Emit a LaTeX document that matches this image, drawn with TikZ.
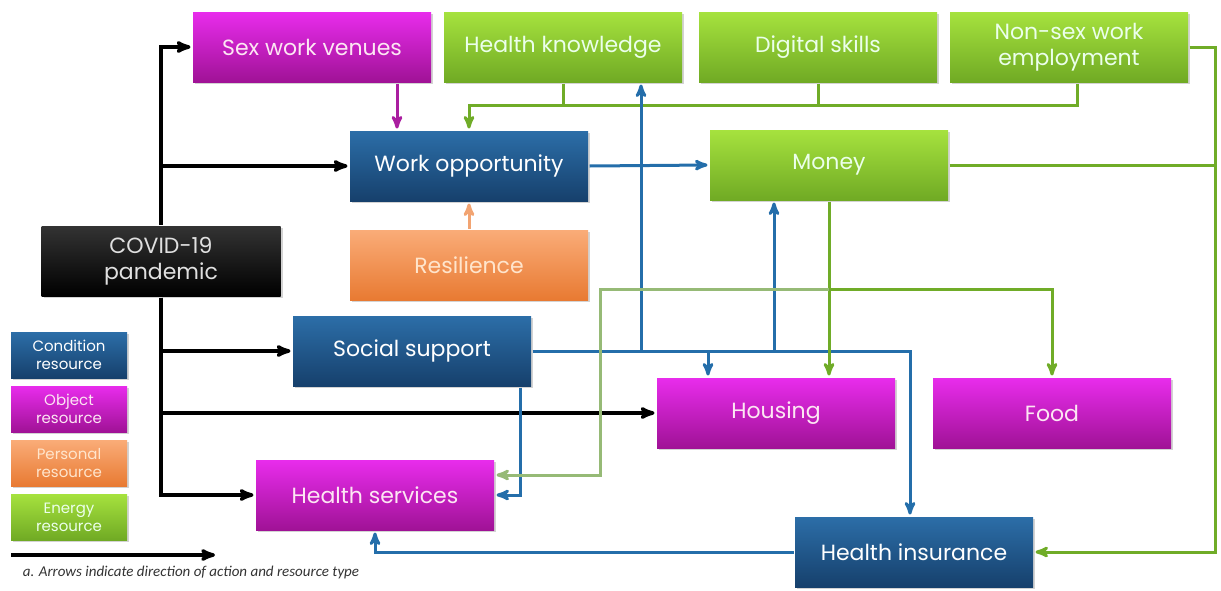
\documentclass[tikz,border=0pt]{standalone}
\usepackage{fontspec}
\setmainfont{Poppins}
\newfontfamily\notefont{Carlito}
\usetikzlibrary{arrows,shadows}

\definecolor{condtop}{RGB}{44,110,168}
\definecolor{condbot}{RGB}{22,64,108}
\definecolor{objtop}{RGB}{232,44,236}
\definecolor{objbot}{RGB}{160,18,150}
\definecolor{perstop}{RGB}{250,172,120}
\definecolor{persbot}{RGB}{232,122,50}
\definecolor{enertop}{RGB}{166,226,62}
\definecolor{enerbot}{RGB}{112,170,36}
\definecolor{lineblue}{RGB}{36,110,170}
\definecolor{linegreen}{RGB}{112,172,40}
\definecolor{palegreen}{RGB}{150,186,118}
\definecolor{linepink}{RGB}{170,30,160}
\definecolor{lineorange}{RGB}{242,164,114}

\begin{document}
\begin{tikzpicture}[x=1pt,y=-1pt,->,>=stealth',shorten >=1pt,line width=3pt,
                    font=\fontsize{22}{26}\selectfont]
  \tikzstyle{box}=[draw=none,minimum width=238pt,minimum height=70pt,inner sep=2pt,
                   align=center,drop shadow={opacity=0.35,shadow xshift=2pt,shadow yshift=-2pt}]
  \tikzstyle{cond}=[box,top color=condtop,bottom color=condbot,text=white]
  \tikzstyle{obj}=[box,top color=objtop,bottom color=objbot,text=white!90!magenta]
  \tikzstyle{pers}=[box,top color=perstop,bottom color=persbot,text=white!80!orange]
  \tikzstyle{ener}=[box,top color=enertop,bottom color=enerbot,text=white!92!green]
  \tikzstyle{covidbox}=[box,top color=black!80,bottom color=black,text=white!88!black]
  \tikzstyle{key}=[minimum width=116pt,minimum height=46pt,
                   font=\fontsize{15}{18}\selectfont]
  \tikzstyle{blk}=[draw=black,line width=3.4pt]
  \tikzstyle{blu}=[draw=lineblue]
  \tikzstyle{grn}=[draw=linegreen]
  \tikzstyle{pgrn}=[draw=palegreen]

  \useasboundingbox (0,0) rectangle (1221,590);

  % top row
  \node[obj]  (sex)                                      at (312,47) {Sex work venues};
  \node[ener] (hk)  [right of=sex,node distance=251pt]  {Health knowledge};
  \node[ener] (ds)  [right of=hk,node distance=255pt]   {Digital skills};
  \node[ener] (ns)  [right of=ds,node distance=251pt]   {Non-sex work\\employment};

  \node[cond]     (work)    at (469,166)  {Work opportunity};
  \node[ener]     (money)   at (829,165)  {Money};
  \node[covidbox,minimum width=239pt] (covid) at (161,261) {COVID-19\\pandemic};
  \node[pers]     (res)     at (469,265)  {Resilience};
  \node[cond]     (social)  at (412,351)  {Social support};
  \node[obj]      (housing) at (776,413)  {Housing};
  \node[obj]      (food)    at (1052,413) {Food};
  \node[obj]      (hserv)   at (375,495)  {Health services};
  \node[cond]     (hins)    at (914,552)  {Health insurance};

  % legend
  \node[cond,key] (kcond) at (69,355)                         {Condition\\resource};
  \node[obj,key]  (kobj)  [below of=kcond,node distance=54pt] {Object\\resource};
  \node[pers,key] (kpers) [below of=kobj,node distance=54pt]  {Personal\\resource};
  \node[ener,key] (kener) [below of=kpers,node distance=54pt] {Energy\\resource};
  \coordinate (keyA) at (11,555);
  \coordinate (keyB) at (216,555);
  \draw[blk] (keyA) -- (keyB);
  \node[anchor=west,text=black!80,font=\notefont\itshape\fontsize{15}{17}\selectfont]
    (note) at (18,572) {a. Arrows indicate direction of action and resource type};

  % pandemic
  \draw[blk] (covid.north) |- (sex.west);
  \draw[blk] (covid.north |- work.west) -- (work.west);
  \draw[blk] (covid.south) |- (social.west);
  \draw[blk] (covid.south) |- (housing.west);
  \draw[blk] (covid.south) |- (hserv.west);

  % into work opportunity
  \coordinate (gbus) at (0,105);
  \draw[draw=linepink] ([xshift=85pt]sex.south) -- ([xshift=85pt]sex.south |- work.north);
  \draw[grn,-] (hk.south) -- (hk.south |- gbus);
  \draw[grn,-] (ds.south) -- (ds.south |- gbus);
  \draw[grn] ([xshift=8pt]ns.south) -- ([xshift=8pt]ns.south |- gbus) -- (work.north |- gbus) -- (work.north);
  \draw[draw=lineorange] (res.north) -- (work.south);
  \draw[blu] (work.east) -- (money.west);

  % social support
  \draw[blu] (social.east) -| ([xshift=-4pt]hins.north);
  \draw[blu] ([xshift=78pt]hk.south |- social.east) -- ([xshift=78pt]hk.south);
  \draw[blu] ([xshift=-55pt]money.south |- social.east) -- ([xshift=-55pt]money.south);
  \draw[blu] ([xshift=-68pt]housing.north |- social.east) -- ([xshift=-68pt]housing.north);
  \draw[blu] ([xshift=108pt]social.south) |- (hserv.east);
  \draw[blu] (hins.west) -| (hserv.south);

  % money
  \coordinate (mbus) at (0,289);
  \coordinate (hsbus) at (600,0);
  \draw[grn] (money.south) -- (money.south |- housing.north);
  \draw[grn] (money.south |- mbus) -| (food.north);
  \draw[pgrn] (money.south |- mbus) -- (hsbus |- mbus) |- ([yshift=20pt]hserv.east);
  \coordinate (rbus) at (1215,0);
  \draw[grn,-] (money.east) -- (money.east -| rbus);
  \draw[grn] (ns.east) -- (ns.east -| rbus) |- (hins.east);
\end{tikzpicture}
\end{document}
